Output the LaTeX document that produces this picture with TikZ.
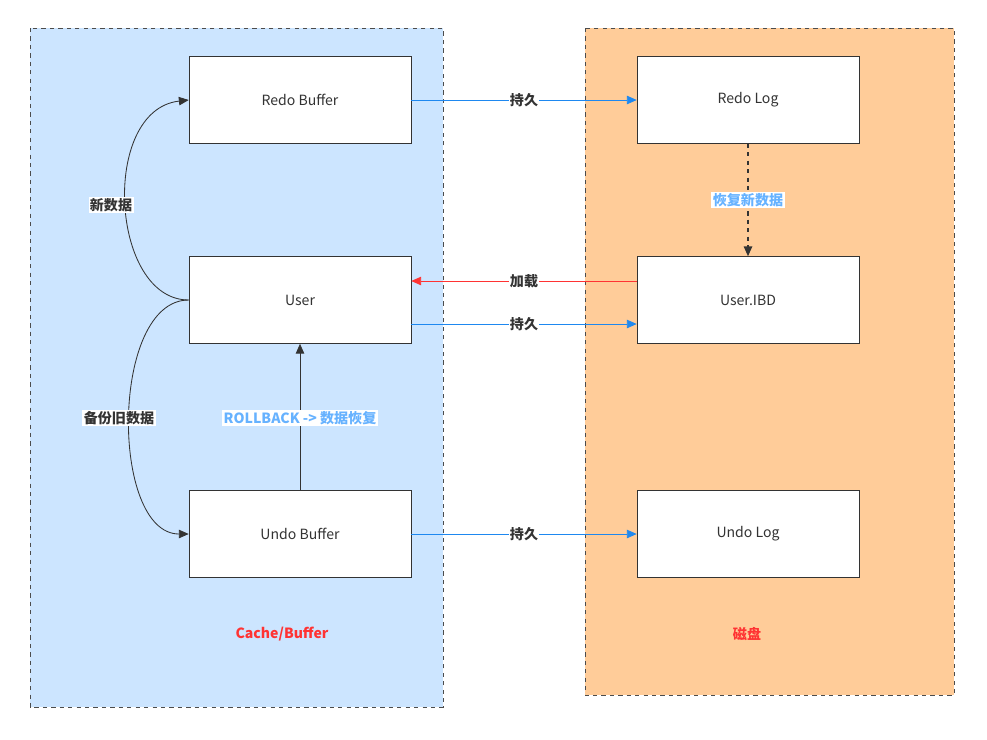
\documentclass[tikz,border=0pt]{standalone}
\usepackage{fontspec}
\setmainfont{Noto Sans CJK SC}
\usetikzlibrary{arrows.meta}
\definecolor{lb}{HTML}{CCE5FF}
\definecolor{lo}{HTML}{FFCC99}
\definecolor{ab}{HTML}{1E88F0}
\definecolor{rd}{HTML}{FF3333}
\definecolor{tb}{HTML}{66B2FF}
\begin{document}
\begin{tikzpicture}[x=0.025cm,y=-0.025cm,
 box/.style={draw=black!80,fill=white,minimum width=222*0.025cm,minimum height=87*0.025cm,font=\fontsize{10}{12}\selectfont,text=black!80},
 region/.style={draw=black!70,dashed},
 lab/.style={fill=white,inner sep=1pt,font=\fontsize{10}{12}\selectfont\bfseries,text=black!80},
 arr/.style={-{Triangle[length=7pt,width=6pt]},line width=0.6pt}]
\useasboundingbox (0,0) rectangle (987,739);
\fill[white] (0,0) rectangle (987,739);
\draw[region,fill=lb] (30,28) rectangle (443,707);
\draw[region,fill=lo] (585,28) rectangle (954,695);
\node[box] (rb) at (300,100) {Redo Buffer};
\node[box] (u) at (300,300) {User};
\node[box] (ub) at (300,534) {Undo Buffer};
\node[box] (rl) at (748,100) {Redo Log};
\node[box] (ui) at (748,300) {User.IBD};
\node[box] (ul) at (748,534) {Undo Log};
\draw[arr,ab] (rb.east) -- node[lab]{持久} (rl.west);
\draw[arr,black!80,dashed,line width=1pt] (rl.south) -- node[lab,text=tb]{恢复新数据} (ui.north);
\draw[arr,rd] (ui.west|-0,281) -- node[lab]{加载} (u.east|-0,281);
\draw[arr,ab] (u.east|-0,324) -- node[lab]{持久} (ui.west|-0,324);
\draw[arr,ab] (ub.east) -- node[lab]{持久} (ul.west);
\draw[arr,black!80] (ub.north) -- (u.south);
\node[lab,text=tb] (rbk) at (300,418) {ROLLBACK -> 数据恢复};
\draw[arr,black!80] (u.west) .. controls (110,300) and (100,110) .. (rb.west);
\node[lab] (nd) at (111,205) {新数据};
\draw[arr,black!80] (u.west) .. controls (110,300) and (110,534) .. (ub.west);
\node[lab] (bd) at (119,418) {备份旧数据};
\node[font=\fontsize{10}{12}\selectfont\bfseries,text=rd] (c1) at (282,634) {Cache/Buffer};
\node[font=\fontsize{10}{12}\selectfont\bfseries,text=rd] (c2) at (747,634) {磁盘};
\end{tikzpicture}
\end{document}
